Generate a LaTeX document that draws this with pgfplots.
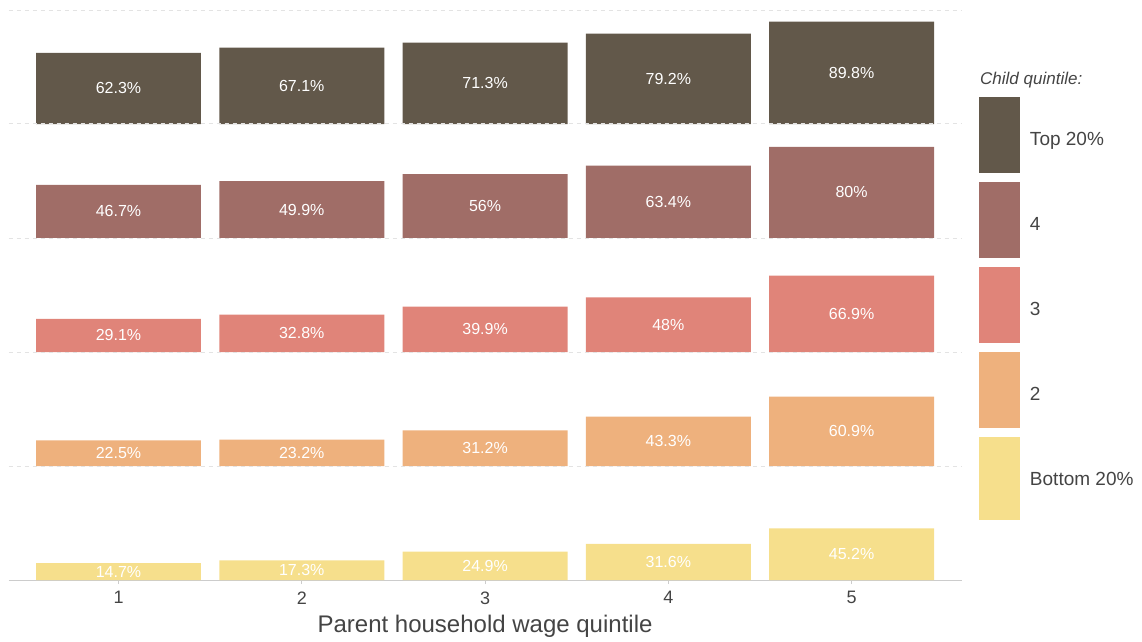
\documentclass[border=0pt]{standalone}
\usepackage{pgfplots}
\pgfplotsset{compat=1.18}
\usepackage{fontspec}
\setmainfont{Liberation Sans}
\definecolor{cTop}{HTML}{62584A}
\definecolor{cFour}{HTML}{A06D67}
\definecolor{cThree}{HTML}{E08479}
\definecolor{cTwo}{HTML}{EEB17D}
\definecolor{cBot}{HTML}{F6DF8C}
\definecolor{gridc}{HTML}{E3E3E3}
\definecolor{axc}{HTML}{CCCCCC}
\definecolor{txt}{HTML}{444444}
\pgfplotsset{
  rowax/.style={
    scale only axis, width=953pt, height=114pt,
    xmin=0.4, xmax=5.6, ymin=0, ymax=100,
    anchor=south west,
    axis line style={draw=none},
    xtick=\empty,
    ytick={100}, yticklabels={}, y tick style={draw=none},
    ymajorgrids, major grid style={draw=gridc, line width=1pt, dash pattern=on 4pt off 4pt},
    ybar, bar width=0.9, bar shift=0pt,
    /pgf/number format/assume math mode=true,
    nodes near coords={\pgfmathprintnumber[assume math mode=true]{\pgfplotspointmeta}\%},
    nodes near coords align={center},
    visualization depends on={y \as \rawy},
    every node near coord/.append style={font=\fontsize{16}{19}\selectfont, text=white, inner sep=0pt, shift={(axis direction cs:0,-\rawy/2)}},
    clip=false,
  },
  bigkey/.style={legend image code/.code={\fill[##1] (0pt,-33pt) rectangle (41pt,43pt); \path (51pt,0pt);}},
  lastkey/.style={legend image code/.code={\fill[##1] (0pt,-40pt) rectangle (41pt,43pt); \path (51pt,0pt);}},
}
\begin{document}
\begin{tikzpicture}
\path[use as bounding box] (0pt,0pt) rectangle (1142pt,641pt);
% Top 20%
\begin{axis}[rowax, at={(8.55pt,517pt)},
  legend style={at={(1.0183,0.2368)}, anchor=north west, draw=none, fill=none,
    inner sep=0pt, outer sep=0pt, row sep=9pt,
    font=\fontsize{19}{22}\selectfont, text=txt, nodes={inner sep=0pt}},
  legend cell align=left]
\addplot[forget plot, fill=cTop, draw=none] coordinates {(1,62.3) (2,67.1) (3,71.3) (4,79.2) (5,89.8)};
\addlegendimage{fill=cTop, draw=none, bigkey}
\addlegendentry{Top 20\%}
\addlegendimage{fill=cFour, draw=none, bigkey}
\addlegendentry{4}
\addlegendimage{fill=cThree, draw=none, bigkey}
\addlegendentry{3}
\addlegendimage{fill=cTwo, draw=none, bigkey}
\addlegendentry{2}
\addlegendimage{fill=cBot, draw=none, lastkey}
\addlegendentry{Bottom 20\%}
\end{axis}
% 4
\begin{axis}[rowax, at={(8.55pt,403pt)}]
\addplot[fill=cFour, draw=none] coordinates {(1,46.7) (2,49.9) (3,56) (4,63.4) (5,80)};
\end{axis}
% 3
\begin{axis}[rowax, at={(8.55pt,289pt)}]
\addplot[fill=cThree, draw=none] coordinates {(1,29.1) (2,32.8) (3,39.9) (4,48) (5,66.9)};
\end{axis}
% 2
\begin{axis}[rowax, at={(8.55pt,175pt)}]
\addplot[fill=cTwo, draw=none] coordinates {(1,22.5) (2,23.2) (3,31.2) (4,43.3) (5,60.9)};
\end{axis}
% Bottom 20%
\begin{axis}[rowax, at={(8.55pt,61pt)},
  axis x line*=bottom, axis y line*=left,
  x axis line style={draw=axc, line width=1pt, -},
  y axis line style={draw=none},
  xtick={1,2,3,4,5}, tick align=outside, major tick length=4pt,
  x tick style={draw=axc, line width=1pt},
  xticklabel style={font=\fontsize{18}{21}\selectfont, text=txt, yshift=-4pt},
  xlabel={Parent household wage quintile},
  xlabel style={at={(axis description cs:0.5,0)}, anchor=base, yshift=-52.5pt, font=\fontsize{24}{28}\selectfont, text=txt}]
\addplot[fill=cBot, draw=none] coordinates {(1,14.7) (2,17.3) (3,24.9) (4,31.6) (5,45.2)};
\end{axis}
\node[anchor=base west, inner sep=0pt, font=\fontsize{17}{20}\selectfont\itshape, text=txt] at (980pt,556.5pt) {Child quintile:};
\end{tikzpicture}
\end{document}
